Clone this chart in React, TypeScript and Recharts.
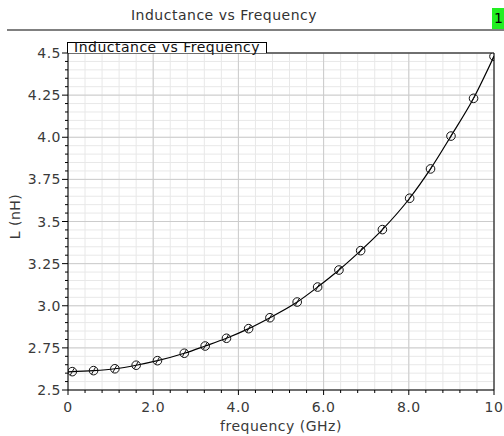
import React from "react";
import { LineChart, Line, XAxis, YAxis, CartesianGrid, ReferenceLine, Label } from "recharts";

const FREQ = [0.1, 0.6, 1.1, 1.6, 2.1, 2.73, 3.22, 3.72, 4.24, 4.74, 5.38, 5.86, 6.36, 6.87, 7.38, 8.02, 8.51, 8.99, 9.52, 10.0];
const L_NH = [2.609, 2.615, 2.626, 2.647, 2.674, 2.718, 2.761, 2.807, 2.864, 2.929, 3.022, 3.111, 3.212, 3.327, 3.452, 3.638, 3.812, 4.007, 4.231, 4.48];
const LINE_START = { f: 0, L: 2.607 };

const X_MAJOR = [0, 2, 4, 6, 8, 10];
const X_LABELS = ["0", "2.0", "4.0", "6.0", "8.0", "10"];
const Y_MAJOR = [2.5, 2.75, 3.0, 3.25, 3.5, 3.75, 4.0, 4.25, 4.5];
const Y_LABELS = ["2.5", "2.75", "3.0", "3.25", "3.5", "3.75", "4.0", "4.25", "4.5"];

const X_MINOR_STEP = 0.4;
const Y_MINOR_STEP = 0.05;

const xTicks: number[] = [];
for (let i = 0; i <= 25; i++) xTicks.push(Math.round(i * X_MINOR_STEP * 100) / 100);
const yTicks: number[] = [];
for (let i = 0; i <= 40; i++) yTicks.push(Math.round((2.5 + i * Y_MINOR_STEP) * 1000) / 1000);

const markerData = FREQ.map((f, i) => ({ f, L: L_NH[i] }));
const lineData = [LINE_START, ...markerData];

const FONT = "'DejaVu Sans', Verdana, sans-serif";
const TXT = "#3a3a3a";

const isMajor = (v: number, arr: number[]) => arr.findIndex((m) => Math.abs(m - v) < 1e-6);

const YTick = (props: any) => {
  const { x, y, payload } = props;
  const idx = isMajor(payload.value, Y_MAJOR);
  if (idx >= 0) {
    return (
      <g>
        <line x1={x - 6} x2={x} y1={y} y2={y} stroke="#000" strokeWidth={1} />
        <text x={x - 7} y={y} dy="0.36em" textAnchor="end" fontSize={14} fontFamily={FONT} fill={TXT} letterSpacing={0.5}>
          {Y_LABELS[idx]}
        </text>
      </g>
    );
  }
  return <line x1={x - 3} x2={x} y1={y} y2={y} stroke="#000" strokeWidth={1} />;
};

const XTick = (props: any) => {
  const { x, y, payload } = props;
  const idx = isMajor(payload.value, X_MAJOR);
  if (idx >= 0) {
    return (
      <g>
        <line x1={x} x2={x} y1={y} y2={y + 5} stroke="#000" strokeWidth={1} />
        <text x={x} y={y + 17} dy="0.36em" textAnchor="middle" fontSize={14} fontFamily={FONT} fill={TXT} letterSpacing={0.5}>
          {X_LABELS[idx]}
        </text>
      </g>
    );
  }
  return <line x1={x} x2={x} y1={y} y2={y + 3} stroke="#000" strokeWidth={1} />;
};

const Marker = (props: any) => {
  const { cx, cy, index } = props;
  if (cx == null || cy == null) return <g key={index} />;
  return (
    <g key={index}>
      <circle cx={cx} cy={cy} r={4.3} fill="none" stroke="#111" strokeWidth={1} />
      <line x1={cx - 2} y1={cy + 3.5} x2={cx + 2} y2={cy - 3.5} stroke="#111" strokeWidth={1} />
    </g>
  );
};

export default function App() {
  return (
    <div style={{ position: "absolute", left: 0, top: 0, width: 504, height: 436, background: "#fff" }}>
      <div
        style={{
          position: "absolute",
          left: 0,
          top: 6,
          width: 448,
          textAlign: "center",
          fontFamily: FONT,
          fontSize: 14,
          letterSpacing: 0.5,
          color: "#333",
          lineHeight: "18px",
        }}
      >
        Inductance vs Frequency
      </div>
      <div style={{ position: "absolute", left: 7, top: 29, width: 497, height: 2, background: "#808080" }} />
      <div
        style={{
          position: "absolute",
          left: 492,
          top: 8,
          width: 12,
          height: 21,
          background: "#22ee22",
          fontFamily: FONT,
          fontSize: 14,
          lineHeight: "21px",
          color: "#000",
          paddingLeft: 2,
          boxSizing: "border-box",
        }}
      >
        1
      </div>
      <LineChart
        width={504}
        height={436}
        margin={{ top: 53, right: 10, left: 8, bottom: 6 }}
      >
        <CartesianGrid stroke="#e8e8e8" strokeWidth={1} />
        {X_MAJOR.map((v) => (
          <ReferenceLine key={"xm" + v} x={v} stroke="#cccccc" strokeWidth={1} />
        ))}
        {Y_MAJOR.map((v) => (
          <ReferenceLine key={"ym" + v} y={v} stroke="#cccccc" strokeWidth={1} />
        ))}
        <ReferenceLine x={10} stroke="#000" strokeWidth={1} />
        <ReferenceLine y={4.5} stroke="#000" strokeWidth={1} />
        <XAxis
          type="number"
          dataKey="f"
          domain={[0, 10]}
          ticks={xTicks}
          interval={0}
          tickSize={0}
          tickMargin={0}
          tick={<XTick />}
          axisLine={{ stroke: "#000" }}
          tickLine={false}
          height={40}
          allowDataOverflow
        >
          <Label
            value="frequency (GHz)"
            position="insideBottom"
            offset={-1}
            style={{ fontFamily: FONT, fontSize: 14, fill: TXT, letterSpacing: 0.5 }}
          />
        </XAxis>
        <YAxis
          type="number"
          dataKey="L"
          domain={[2.5, 4.5]}
          ticks={yTicks}
          interval={0}
          tickSize={0}
          tickMargin={0}
          tick={<YTick />}
          axisLine={{ stroke: "#000" }}
          tickLine={false}
          width={60}
          allowDataOverflow
        >
          <Label
            value="L (nH)"
            angle={-90}
            position="insideLeft"
            offset={7}
            dy={-5}
            style={{ fontFamily: FONT, fontSize: 14, fill: TXT, letterSpacing: 0.5, textAnchor: "middle" }}
          />
        </YAxis>
        <Line
          data={lineData}
          dataKey="L"
          type="monotone"
          stroke="#000"
          strokeWidth={1.2}
          dot={false}
          activeDot={false}
          isAnimationActive={false}
        />
        <Line
          data={markerData}
          dataKey="L"
          type="monotone"
          stroke="none"
          dot={<Marker />}
          activeDot={false}
          isAnimationActive={false}
        />
      </LineChart>
      <div
        style={{
          position: "absolute",
          left: 67,
          top: 42,
          width: 200,
          height: 11,
          borderTop: "1px solid #000",
          borderRight: "1px solid #000",
          borderLeft: "1px solid #000",
          background: "#fff",
          boxSizing: "border-box",
          overflow: "visible",
        }}
      >
        <div
          style={{
            position: "absolute",
            left: 6,
            top: -4,
            fontFamily: FONT,
            fontSize: 14,
            letterSpacing: 0.5,
            color: "#111",
            lineHeight: "16px",
            whiteSpace: "nowrap",
          }}
        >
          Inductance vs Frequency
        </div>
      </div>
    </div>
  );
}
